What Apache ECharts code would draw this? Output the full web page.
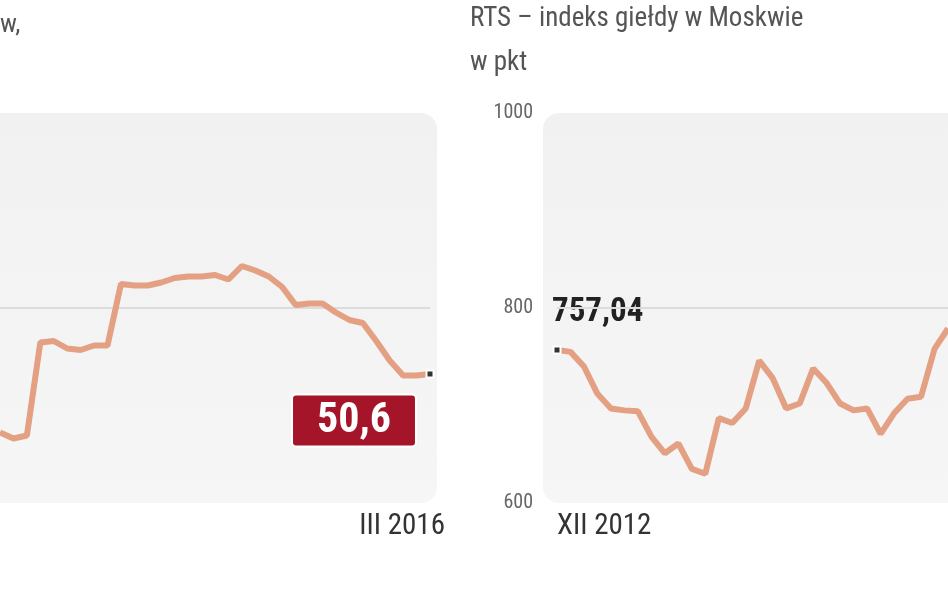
<!DOCTYPE html>
<html><head><meta charset="utf-8">
<script src="https://cdn.jsdelivr.net/npm/echarts@6/dist/echarts.min.js"></script>
<style>html,body{margin:0;background:#fff}#c{width:948px;height:593px}</style></head>
<body><div id="c"></div>
<script>
const leftValues=[46.7,46.3,46.5,52.7,52.8,52.3,52.2,52.5,52.5,56.6,56.5,56.5,56.7,57.0,57.1,57.1,57.2,56.9,57.8,57.5,57.1,56.4,55.2,55.3,55.3,54.7,54.2,54.0,52.8,51.5,50.5,50.5,50.6];
const rightValues=[757,755,740,712,697,695,694,668,651,661,635,630,687,682,697,746,728,697,702,738,723,702,695,697,671,692,707,709,758,779];
const rightTicks=[600,800,1000];
const font='"Liberation Sans Narrow","Roboto Condensed","DejaVu Sans Condensed","Liberation Sans",sans-serif';
const line='#e3a083';
const chart=echarts.init(document.getElementById('c'));
const lastL=leftValues.length-1;
const mark={symbol:'rect',symbolSize:7,itemStyle:{color:'#333',borderColor:'#fff',borderWidth:2}};
chart.setOption({
 animation:false,
 graphic:[
  {type:'rect',z:-10,shape:{x:-20,y:113,width:457,height:390,r:16},style:{fill:{type:'linear',x:0,y:0,x2:0,y2:1,colorStops:[{offset:0,color:'#f1f1f2'},{offset:1,color:'#f6f6f7'}]}}},
  {type:'rect',z:-10,shape:{x:543,y:113,width:430,height:390,r:16},style:{fill:{type:'linear',x:0,y:0,x2:0,y2:1,colorStops:[{offset:0,color:'#f1f1f2'},{offset:1,color:'#f6f6f7'}]}}},
  {type:'text',left:0,top:12,style:{text:'w,',font:'26px '+font,fill:'#555'}},
  {type:'text',left:470,top:6,style:{text:'RTS – indeks giełdy w Moskwie',font:'27px '+font,fill:'#555'}},
  {type:'text',left:470,top:50,style:{text:'w pkt',font:'27px '+font,fill:'#555'}},
  {type:'text',right:503,top:512,style:{text:'III 2016',font:'29px '+font,fill:'#333'}},
  {type:'text',left:557,top:512,style:{text:'XII 2012',font:'29px '+font,fill:'#333'}},
  {type:'text',left:552,top:296,style:{text:'757,04',font:'bold 33px '+font,fill:'#222'}}
 ],
 grid:[{left:0,right:518,top:113,bottom:90},{left:557,right:0,top:113,bottom:90}],
 xAxis:[
  {gridIndex:0,type:'category',boundaryGap:false,data:leftValues.map((v,i)=>i),show:false},
  {gridIndex:1,type:'category',boundaryGap:false,data:rightValues.map((v,i)=>i),show:false}
 ],
 yAxis:[
  {gridIndex:0,type:'value',min:42,max:68,interval:13,axisLabel:{show:false},axisLine:{show:false},axisTick:{show:false},splitLine:{lineStyle:{color:['transparent','#dcdcdc','transparent'],width:2}}},
  {gridIndex:1,type:'value',min:rightTicks[0],max:rightTicks[2],interval:200,axisLine:{show:false},axisTick:{show:false},
   axisLabel:{margin:24,color:'#666',fontFamily:font,fontSize:20,formatter:v=>String(v)},splitLine:{lineStyle:{color:['transparent','#dcdcdc','transparent'],width:2}}}
 ],
 series:[
  {type:'line',xAxisIndex:0,yAxisIndex:0,showSymbol:true,symbol:'none',lineStyle:{color:line,width:6},
   data:leftValues.map((v,i)=>i===lastL?Object.assign({value:v,
    label:{show:true,position:'bottom',offset:[-76,12],formatter:'50,6',backgroundColor:'#a4152a',borderColor:'#fff',borderWidth:2,color:'#fff',fontFamily:font,fontWeight:'bold',fontSize:42,padding:[5,24,3,24],borderRadius:3}},mark):v)},
  {type:'line',xAxisIndex:1,yAxisIndex:1,showSymbol:true,symbol:'none',lineStyle:{color:line,width:6},
   data:rightValues.map((v,i)=>i===0?Object.assign({value:v},mark):v)}
 ]
});
</script></body></html>
